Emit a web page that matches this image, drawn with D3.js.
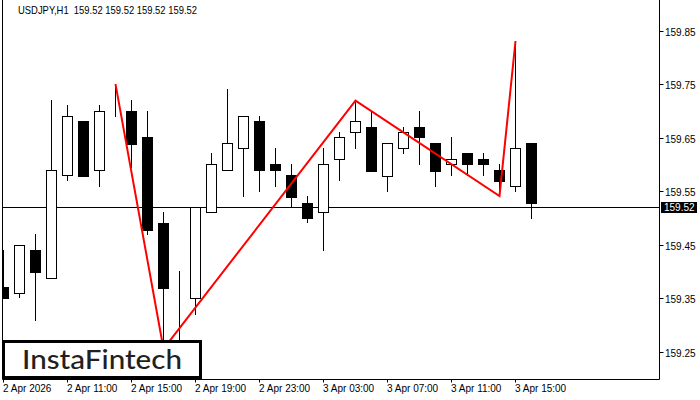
<!DOCTYPE html>
<html><head><meta charset="utf-8">
<script src="https://cdn.jsdelivr.net/npm/d3@7"></script>
<style>
html,body{margin:0;padding:0;background:#fff;}
svg{display:block;}
</style></head>
<body>
<svg id="c" width="700" height="400"></svg>
<script>
// ---- data ----
const title = "USDJPY,H1  159.52 159.52 159.52 159.52";
const opens  = [159.372,159.360,159.440,159.389,159.580,159.681,159.589,159.711,159.700,159.651,159.490,159.361,159.350,159.511,159.590,159.630,159.681,159.601,159.580,159.529,159.511,159.610,159.660,159.669,159.579,159.630,159.669,159.640,159.600,159.621,159.610,159.590,159.560,159.640];
const highs  = [159.440,159.450,159.470,159.720,159.711,159.681,159.711,159.750,159.720,159.700,159.511,159.401,159.521,159.622,159.740,159.690,159.690,159.630,159.600,159.541,159.630,159.660,159.719,159.699,159.640,159.669,159.699,159.640,159.651,159.621,159.621,159.601,159.830,159.640];
const lows   = [159.348,159.350,159.308,159.389,159.570,159.579,159.558,159.689,159.593,159.468,159.256,159.272,159.319,159.511,159.590,159.540,159.549,159.558,159.521,159.490,159.439,159.570,159.629,159.588,159.549,159.620,159.599,159.558,159.579,159.579,159.579,159.541,159.549,159.498];
const closes = [159.350,159.450,159.400,159.590,159.690,159.579,159.700,159.711,159.639,159.478,159.370,159.361,159.521,159.600,159.640,159.690,159.589,159.589,159.540,159.500,159.600,159.651,159.681,159.588,159.640,159.660,159.651,159.588,159.610,159.600,159.600,159.570,159.630,159.529];
const timeTickIdx = [0,4,8,12,16,20,24,28,32];
const timeTickLabels = ["2 Apr 2026","2 Apr 11:00","2 Apr 15:00","2 Apr 19:00","2 Apr 23:00","3 Apr 03:00","3 Apr 07:00","3 Apr 11:00","3 Apr 15:00"];
const priceTicks = [159.25,159.35,159.45,159.55,159.65,159.75,159.85];
const currentPrice = 159.52;
const patternIdx = [7,10,22,31,32];
const patternPrice = [159.750,159.256,159.719,159.541,159.830];
const logoText = "InstaFintech";

// ---- layout ----
const svg = d3.select("#c");
const L = 2.5, R = 659.5, B = 379.5, T = 0;
const x = d3.scaleLinear().domain([0, 33]).range([3.5, 531.5]);
const y = d3.scaleLinear().domain([159.25, 159.85]).range([352, 30.5]);
const font = "Liberation Sans, Arial, sans-serif";

svg.append("defs").append("clipPath").attr("id","plot")
  .append("rect").attr("x", 3).attr("y", 0).attr("width", R - 3).attr("height", B);

const g = svg.append("g").attr("clip-path","url(#plot)");

// current price line
g.append("line").attr("x1", L).attr("x2", R)
  .attr("y1", Math.round(y(currentPrice)) + 0.5).attr("y2", Math.round(y(currentPrice)) + 0.5)
  .attr("stroke","#000").attr("stroke-width",1);

const candles = opens.map((o,i)=>({i, o, h:highs[i], l:lows[i], c:closes[i]}));
const px = v => Math.round(v) + 0.5;

// wicks
g.selectAll("line.wick").data(candles).enter().append("line")
  .attr("class","wick")
  .attr("x1", d=>x(d.i)).attr("x2", d=>x(d.i))
  .attr("y1", d=>Math.round(y(d.h))).attr("y2", d=>Math.round(y(d.l)))
  .attr("stroke","#000").attr("stroke-width",1);

// bodies
g.selectAll("rect.body").data(candles).enter().append("rect")
  .attr("class","body")
  .attr("x", d=>x(d.i) - 5)
  .attr("width", 10)
  .attr("y", d=>px(y(Math.max(d.o,d.c))))
  .attr("height", d=>Math.max(0, Math.round(y(Math.min(d.o,d.c))) - Math.round(y(Math.max(d.o,d.c)))))
  .attr("fill", d=> d.c >= d.o ? "#fff" : "#000")
  .attr("stroke","#000").attr("stroke-width",1);

// pattern line
const pat = patternIdx.map((k,j)=>[x(k), y(patternPrice[j])]);
g.append("path").attr("d", d3.line()(pat))
  .attr("fill","none").attr("stroke","#ff0000").attr("stroke-width",2)
  .attr("stroke-linejoin","miter");

// frame
svg.append("line").attr("x1",L).attr("x2",L).attr("y1",T).attr("y2",B).attr("stroke","#000");
svg.append("line").attr("x1",R).attr("x2",R).attr("y1",T).attr("y2",B).attr("stroke","#000");
svg.append("line").attr("x1",L).attr("x2",R).attr("y1",B).attr("y2",B).attr("stroke","#000");

// right axis
const ya = svg.append("g");
priceTicks.forEach(p=>{
  const yy = Math.round(y(p)) + 0.5;
  ya.append("line").attr("x1",R).attr("x2",R+4).attr("y1",yy).attr("y2",yy).attr("stroke","#000");
  ya.append("text").attr("x",665).attr("y",yy+4)
    .attr("font-family",font).attr("font-size",10).attr("fill","#000")
    .text(p.toFixed(2));
});
// current price label
const cy = Math.round(y(currentPrice));
ya.append("rect").attr("x",661).attr("y",cy-5).attr("width",36).attr("height",11).attr("fill","#000");
ya.append("text").attr("x",664).attr("y",cy+4)
  .attr("font-family",font).attr("font-size",10).attr("fill","#fff")
  .text(currentPrice.toFixed(2));

// bottom axis
const xa = svg.append("g");
timeTickIdx.forEach((k,j)=>{
  const xx = x(k);
  xa.append("line").attr("x1",xx).attr("x2",xx).attr("y1",B).attr("y2",B+3).attr("stroke","#000");
  xa.append("text").attr("x",xx-0.5).attr("y",392)
    .attr("font-family",font).attr("font-size",10).attr("fill","#000")
    .text(timeTickLabels[j]);
});

// title
svg.append("text").attr("x",18).attr("y",14)
  .attr("font-family",font).attr("font-size",10.5).attr("fill","#000")
  .style("white-space","pre").attr("xml:space","preserve")
  .attr("textLength",179).attr("lengthAdjust","spacingAndGlyphs")
  .text(title);

// logo
svg.append("rect").attr("x",3.5).attr("y",341.5).attr("width",197).attr("height",36)
  .attr("fill","#fff").attr("stroke","#000").attr("stroke-width",3);
svg.append("text").attr("x",22).attr("y",369)
  .attr("font-family","Lato, Open Sans, sans-serif").attr("font-size",26).attr("font-weight",500)
  .attr("fill","#231f20").attr("textLength",160).attr("lengthAdjust","spacingAndGlyphs")
  .text(logoText);
</script>
</body></html>
